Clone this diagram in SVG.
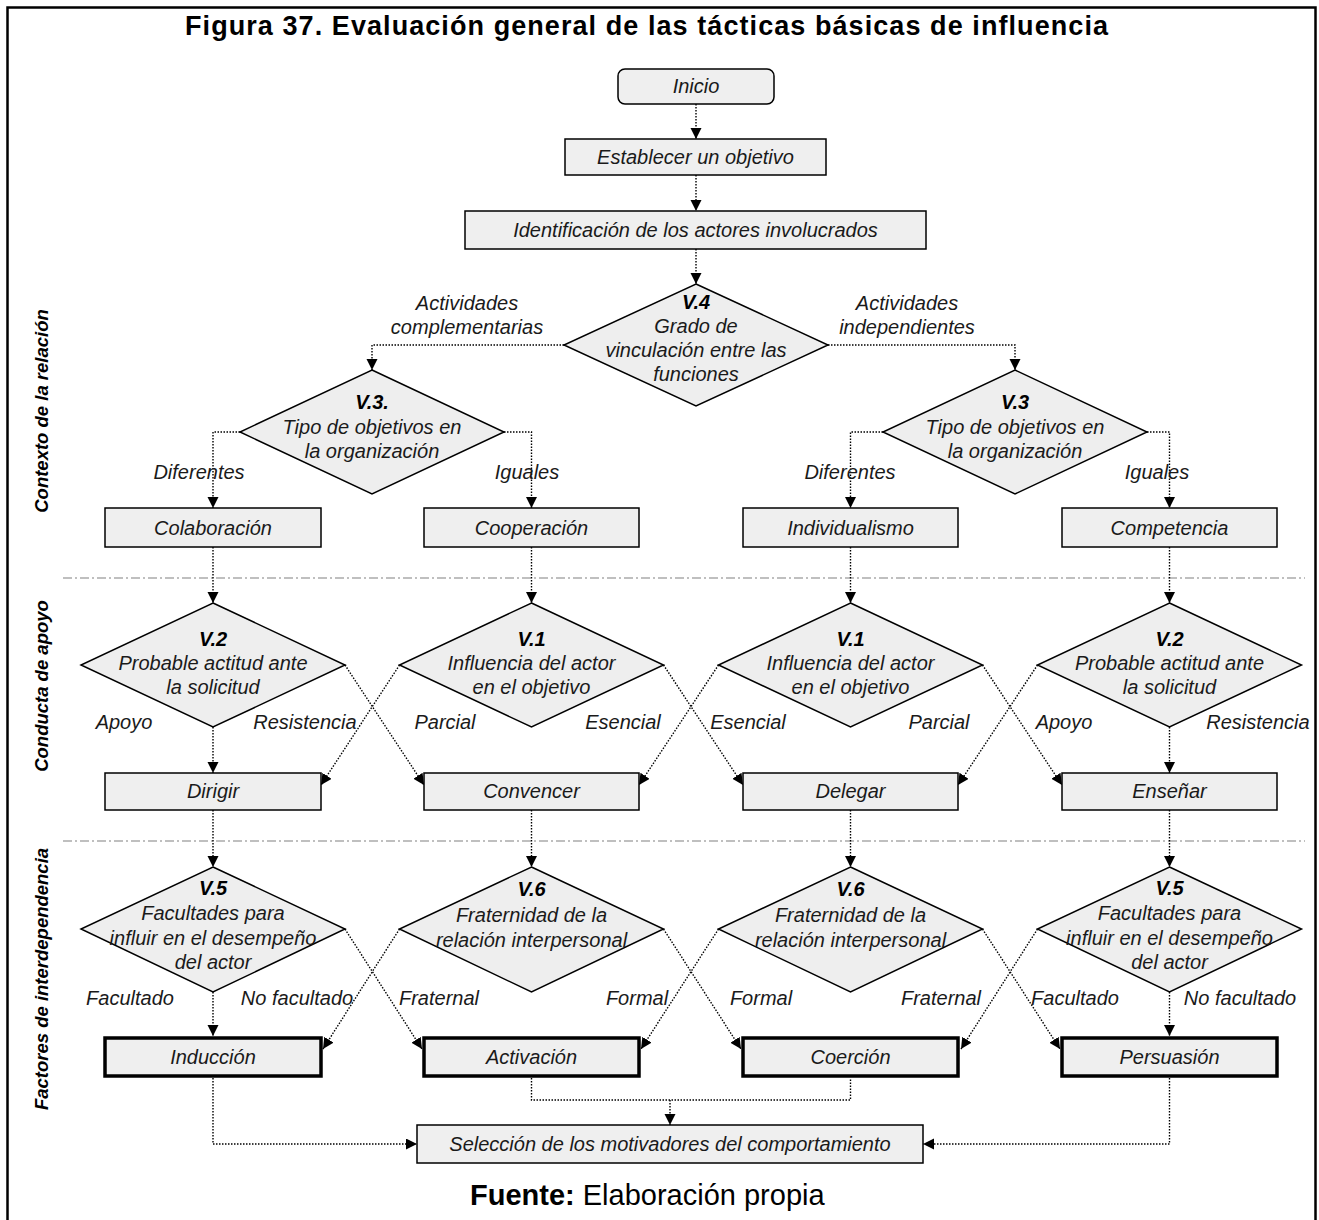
<svg xmlns="http://www.w3.org/2000/svg" width="1319" height="1220" viewBox="0 0 1319 1220">
  <style>
    .box { fill: #efefef; stroke: #000; stroke-width: 1.5; }
    .final { fill: #efefef; stroke: #000; stroke-width: 3.5; }
    .dia { fill: #eeeeee; stroke: #000; stroke-width: 1.5; }
    .t { font-family: "Liberation Sans", Arial, sans-serif; font-size: 20px; font-style: italic; fill: #1a1a1a; text-anchor: middle; }
    .v { font-weight: bold; fill: #000; }
    .lbl { font-family: "Liberation Sans", Arial, sans-serif; font-size: 20px; font-style: italic; fill: #1a1a1a; text-anchor: middle; }
    .sec { font-family: "Liberation Sans", Arial, sans-serif; font-size: 18.5px; font-style: italic; font-weight: bold; fill: #000; text-anchor: middle; }
    .con { fill: none; stroke: #000; stroke-width: 1.4; stroke-dasharray: 1.5 1.5; }
    .sep { fill: none; stroke: #808080; stroke-width: 1.2; stroke-dasharray: 9 3 2 3; }
  </style>
  <defs>
    <marker id="arr" markerUnits="userSpaceOnUse" markerWidth="12" markerHeight="12" refX="11" refY="5.5" orient="auto">
      <path d="M0,0 L11,5.5 L0,11 z" fill="#000"/>
    </marker>
  </defs>

  <rect width="1319" height="1220" fill="#fff"/>
  <!-- frame (open at the bottom) -->
  <rect x="7.5" y="7.5" width="1308" height="1240" fill="none" stroke="#000" stroke-width="2.5"/>

  <text x="185" y="35" textLength="923" lengthAdjust="spacing" font-family="Liberation Sans, Arial, sans-serif" font-size="27" font-weight="bold" fill="#000">Figura 37. Evaluación general de las tácticas básicas de influencia</text>

  <!-- section separators -->
  <line class="sep" x1="63" y1="578" x2="1305" y2="578"/>
  <line class="sep" x1="63" y1="841" x2="1305" y2="841"/>

  <!-- section titles -->
  <text class="sec" transform="translate(48,411) rotate(-90)">Contexto de la relación</text>
  <text class="sec" transform="translate(48,686) rotate(-90)">Conducta de apoyo</text>
  <text class="sec" transform="translate(48,979) rotate(-90)">Factores de interdependencia</text>

  <!-- connectors -->
  <g id="connectors">
    <path class="con" d="M696,104 V139" marker-end="url(#arr)"/>
    <path class="con" d="M696,175 V211" marker-end="url(#arr)"/>
    <path class="con" d="M696,249 V284" marker-end="url(#arr)"/>
    <path class="con" d="M564,345 H372 V370" marker-end="url(#arr)"/>
    <path class="con" d="M828,345 H1015 V370" marker-end="url(#arr)"/>
    <path class="con" d="M240,432 H213 V508" marker-end="url(#arr)"/>
    <path class="con" d="M504,432 H531.5 V508" marker-end="url(#arr)"/>
    <path class="con" d="M883,432 H850.5 V508" marker-end="url(#arr)"/>
    <path class="con" d="M1147,432 H1169.5 V508" marker-end="url(#arr)"/>

    <path class="con" d="M213,547 V603" marker-end="url(#arr)"/>
    <path class="con" d="M531.5,547 V603" marker-end="url(#arr)"/>
    <path class="con" d="M850.5,547 V603" marker-end="url(#arr)"/>
    <path class="con" d="M1169.5,547 V603" marker-end="url(#arr)"/>

    <path class="con" d="M213,727 V773" marker-end="url(#arr)"/>
    <path class="con" d="M345,665 L424,785" marker-end="url(#arr)"/>
    <path class="con" d="M399.5,665 L321,785" marker-end="url(#arr)"/>
    <path class="con" d="M663.5,665 L743,785" marker-end="url(#arr)"/>
    <path class="con" d="M718.5,665 L639,785" marker-end="url(#arr)"/>
    <path class="con" d="M982.5,665 L1062,785" marker-end="url(#arr)"/>
    <path class="con" d="M1037.5,665 L958,785" marker-end="url(#arr)"/>
    <path class="con" d="M1169.5,727 V773" marker-end="url(#arr)"/>

    <path class="con" d="M213,810 V867" marker-end="url(#arr)"/>
    <path class="con" d="M531.5,810 V867" marker-end="url(#arr)"/>
    <path class="con" d="M850.5,810 V867" marker-end="url(#arr)"/>
    <path class="con" d="M1169.5,810 V867" marker-end="url(#arr)"/>

    <path class="con" d="M213,992 V1036" marker-end="url(#arr)"/>
    <path class="con" d="M345,929 L422,1049" marker-end="url(#arr)"/>
    <path class="con" d="M399.5,929 L323,1049" marker-end="url(#arr)"/>
    <path class="con" d="M663.5,929 L741,1049" marker-end="url(#arr)"/>
    <path class="con" d="M718.5,929 L641,1049" marker-end="url(#arr)"/>
    <path class="con" d="M982.5,929 L1060,1049" marker-end="url(#arr)"/>
    <path class="con" d="M1037.5,929 L961,1049" marker-end="url(#arr)"/>
    <path class="con" d="M1169.5,992 V1036" marker-end="url(#arr)"/>

    <path class="con" d="M213,1078 V1144 H417" marker-end="url(#arr)"/>
    <path class="con" d="M531.5,1078 V1100 H850.5 V1078"/>
    <path class="con" d="M670,1100 V1125" marker-end="url(#arr)"/>
    <path class="con" d="M1169.5,1078 V1144 H923" marker-end="url(#arr)"/>
  </g>

  <!-- branch labels -->
  <g id="labels">
    <text class="lbl" x="467" y="310">Actividades</text>
    <text class="lbl" x="467" y="334">complementarias</text>
    <text class="lbl" x="907" y="310">Actividades</text>
    <text class="lbl" x="907" y="334">independientes</text>
    <text class="lbl" x="199" y="479">Diferentes</text>
    <text class="lbl" x="527" y="479">Iguales</text>
    <text class="lbl" x="850" y="479">Diferentes</text>
    <text class="lbl" x="1157" y="479">Iguales</text>

    <text class="lbl" x="124" y="729">Apoyo</text>
    <text class="lbl" x="305" y="729">Resistencia</text>
    <text class="lbl" x="445" y="729">Parcial</text>
    <text class="lbl" x="623" y="729">Esencial</text>
    <text class="lbl" x="748" y="729">Esencial</text>
    <text class="lbl" x="939" y="729">Parcial</text>
    <text class="lbl" x="1064" y="729">Apoyo</text>
    <text class="lbl" x="1258" y="729">Resistencia</text>

    <text class="lbl" x="130" y="1005">Facultado</text>
    <text class="lbl" x="297" y="1005">No facultado</text>
    <text class="lbl" x="439" y="1005">Fraternal</text>
    <text class="lbl" x="637" y="1005">Formal</text>
    <text class="lbl" x="761" y="1005">Formal</text>
    <text class="lbl" x="941" y="1005">Fraternal</text>
    <text class="lbl" x="1075" y="1005">Facultado</text>
    <text class="lbl" x="1240" y="1005">No facultado</text>
  </g>

  <!-- start sequence -->
  <g id="inicio">
    <rect class="box" x="618" y="69" width="156" height="35" rx="7"/>
    <text class="t" x="696" y="93">Inicio</text>
  </g>
  <g id="establecer">
    <rect class="box" x="565" y="139" width="261" height="36"/>
    <text class="t" x="695.5" y="164">Establecer un objetivo</text>
  </g>
  <g id="identificacion">
    <rect class="box" x="465" y="211" width="461" height="38"/>
    <text class="t" x="695.5" y="237">Identificación de los actores involucrados</text>
  </g>

  <!-- relation context -->
  <g id="v4">
    <polygon class="dia" points="696,284 828,345 696,406 564,345"/>
    <text class="t v" x="696" y="309">V.4</text>
    <text class="t" x="696" y="333">Grado de</text>
    <text class="t" x="696" y="357">vinculación entre las</text>
    <text class="t" x="696" y="381">funciones</text>
  </g>
  <g id="v3-izq">
    <polygon class="dia" points="372,370 504,432 372,494 240,432"/>
    <text class="t v" x="372" y="409">V.3.</text>
    <text class="t" x="372" y="434">Tipo de objetivos en</text>
    <text class="t" x="372" y="458">la organización</text>
  </g>
  <g id="v3-der">
    <polygon class="dia" points="1015,370 1147,432 1015,494 883,432"/>
    <text class="t v" x="1015" y="409">V.3</text>
    <text class="t" x="1015" y="434">Tipo de objetivos en</text>
    <text class="t" x="1015" y="458">la organización</text>
  </g>
  <g id="colaboracion">
    <rect class="box" x="105" y="508" width="216" height="39"/>
    <text class="t" x="213" y="535">Colaboración</text>
  </g>
  <g id="cooperacion">
    <rect class="box" x="424" y="508" width="215" height="39"/>
    <text class="t" x="531.5" y="535">Cooperación</text>
  </g>
  <g id="individualismo">
    <rect class="box" x="743" y="508" width="215" height="39"/>
    <text class="t" x="850.5" y="535">Individualismo</text>
  </g>
  <g id="competencia">
    <rect class="box" x="1062" y="508" width="215" height="39"/>
    <text class="t" x="1169.5" y="535">Competencia</text>
  </g>

  <!-- support behaviour -->
  <g id="v2-a">
    <polygon class="dia" points="213,603 345,665 213,727 81,665"/>
    <text class="t v" x="213" y="646">V.2</text>
    <text class="t" x="213" y="670">Probable actitud ante</text>
    <text class="t" x="213" y="694">la solicitud</text>
  </g>
  <g id="v1-a">
    <polygon class="dia" points="531.5,603 663.5,665 531.5,727 399.5,665"/>
    <text class="t v" x="531.5" y="646">V.1</text>
    <text class="t" x="531.5" y="670">Influencia del actor</text>
    <text class="t" x="531.5" y="694">en el objetivo</text>
  </g>
  <g id="v1-b">
    <polygon class="dia" points="850.5,603 982.5,665 850.5,727 718.5,665"/>
    <text class="t v" x="850.5" y="646">V.1</text>
    <text class="t" x="850.5" y="670">Influencia del actor</text>
    <text class="t" x="850.5" y="694">en el objetivo</text>
  </g>
  <g id="v2-b">
    <polygon class="dia" points="1169.5,603 1301.5,665 1169.5,727 1037.5,665"/>
    <text class="t v" x="1169.5" y="646">V.2</text>
    <text class="t" x="1169.5" y="670">Probable actitud ante</text>
    <text class="t" x="1169.5" y="694">la solicitud</text>
  </g>
  <g id="dirigir">
    <rect class="box" x="105" y="773" width="216" height="37"/>
    <text class="t" x="213" y="798">Dirigir</text>
  </g>
  <g id="convencer">
    <rect class="box" x="424" y="773" width="215" height="37"/>
    <text class="t" x="531.5" y="798">Convencer</text>
  </g>
  <g id="delegar">
    <rect class="box" x="743" y="773" width="215" height="37"/>
    <text class="t" x="850.5" y="798">Delegar</text>
  </g>
  <g id="ensenar">
    <rect class="box" x="1062" y="773" width="215" height="37"/>
    <text class="t" x="1169.5" y="798">Enseñar</text>
  </g>

  <!-- interdependence factors -->
  <g id="v5-a">
    <polygon class="dia" points="213,867 345,929 213,992 81,929"/>
    <text class="t v" x="213" y="895">V.5</text>
    <text class="t" x="213" y="920">Facultades para</text>
    <text class="t" x="213" y="945">influir en el desempeño</text>
    <text class="t" x="213" y="969">del actor</text>
  </g>
  <g id="v6-a">
    <polygon class="dia" points="531.5,867 663.5,929 531.5,992 399.5,929"/>
    <text class="t v" x="531.5" y="896">V.6</text>
    <text class="t" x="531.5" y="922">Fraternidad de la</text>
    <text class="t" x="531.5" y="947">relación interpersonal</text>
  </g>
  <g id="v6-b">
    <polygon class="dia" points="850.5,867 982.5,929 850.5,992 718.5,929"/>
    <text class="t v" x="850.5" y="896">V.6</text>
    <text class="t" x="850.5" y="922">Fraternidad de la</text>
    <text class="t" x="850.5" y="947">relación interpersonal</text>
  </g>
  <g id="v5-b">
    <polygon class="dia" points="1169.5,867 1301.5,929 1169.5,992 1037.5,929"/>
    <text class="t v" x="1169.5" y="895">V.5</text>
    <text class="t" x="1169.5" y="920">Facultades para</text>
    <text class="t" x="1169.5" y="945">influir en el desempeño</text>
    <text class="t" x="1169.5" y="969">del actor</text>
  </g>
  <g id="induccion">
    <rect class="final" x="105" y="1038" width="216" height="38"/>
    <text class="t" x="213" y="1064">Inducción</text>
  </g>
  <g id="activacion">
    <rect class="final" x="424" y="1038" width="215" height="38"/>
    <text class="t" x="531.5" y="1064">Activación</text>
  </g>
  <g id="coercion">
    <rect class="final" x="743" y="1038" width="215" height="38"/>
    <text class="t" x="850.5" y="1064">Coerción</text>
  </g>
  <g id="persuasion">
    <rect class="final" x="1062" y="1038" width="215" height="38"/>
    <text class="t" x="1169.5" y="1064">Persuasión</text>
  </g>

  <g id="seleccion">
    <rect class="box" x="417" y="1125" width="506" height="38"/>
    <text class="t" x="670" y="1151">Selección de los motivadores del comportamiento</text>
  </g>

  <text x="470" y="1205" font-family="Liberation Sans, Arial, sans-serif" font-size="29" fill="#000"><tspan font-weight="bold">Fuente:</tspan> Elaboración propia</text>
</svg>
